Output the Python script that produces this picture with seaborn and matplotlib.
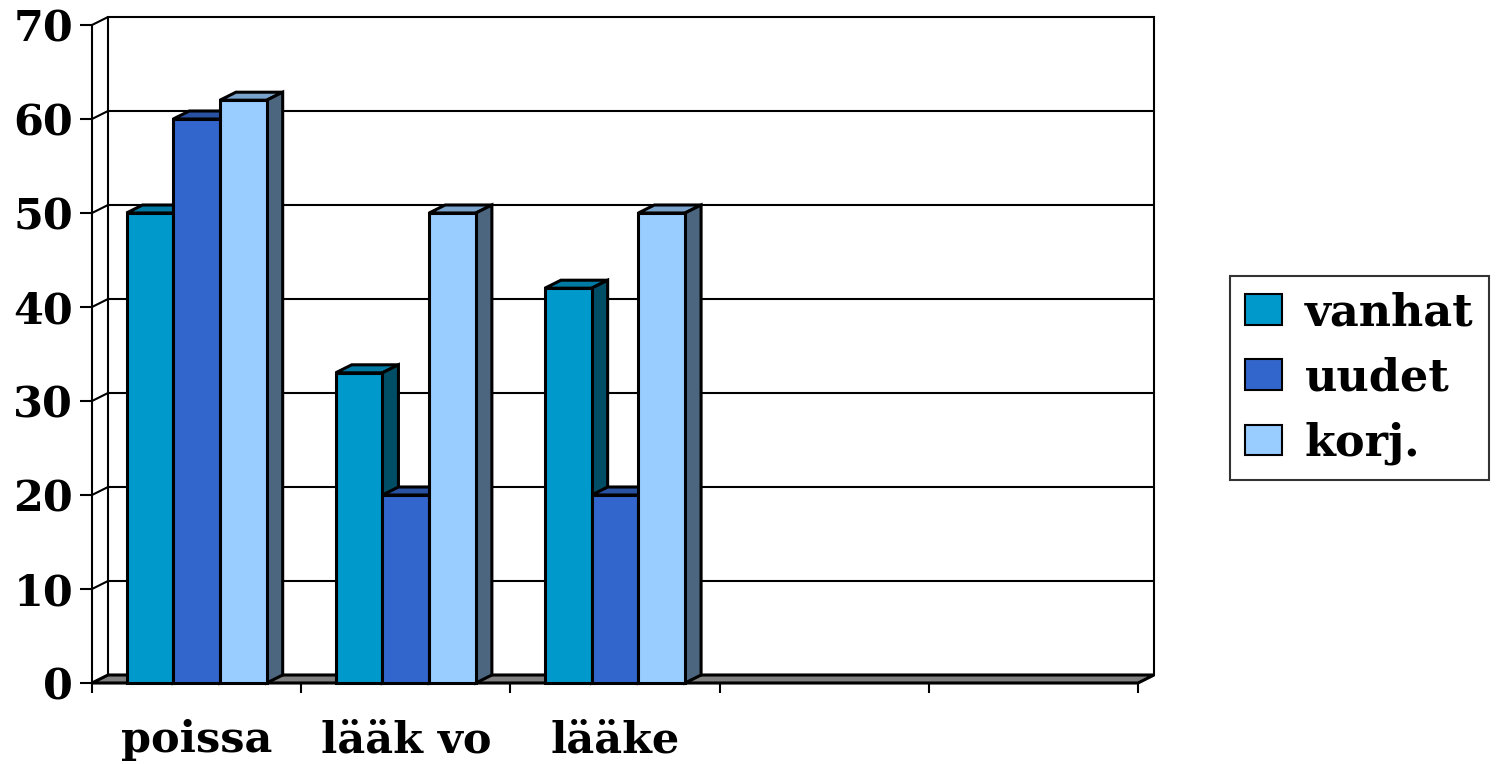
import matplotlib
matplotlib.use("Agg")
import numpy as np
import pandas as pd
import seaborn as sns
import matplotlib.pyplot as plt
from matplotlib.patches import Polygon, Rectangle, Patch
import matplotlib.colors as mcolors

# Data
categories = ["poissa", "lääk vo", "lääke"]
series = ["vanhat", "uudet", "korj."]
vanhat = [50, 33, 42]
uudet = [60, 20, 20]
korj = [62, 50, 50]
y_ticks = [0, 10, 20, 30, 40, 50, 60, 70]
n_slots = 5
colors = ["#0099CC", "#3366CC", "#99CCFF"]

df = pd.DataFrame({
    "category": categories * 3,
    "series": [s for s in series for _ in categories],
    "value": vanhat + uudet + korj,
})

sns.set_style("white")
plt.rcParams["font.family"] = ["DejaVu Serif"]
plt.rcParams["font.weight"] = "bold"
plt.rcParams["text.color"] = "black"
plt.rcParams["xtick.color"] = "black"
plt.rcParams["ytick.color"] = "black"
plt.rcParams["axes.labelcolor"] = "black"

W, H, DPI = 1500, 764, 100
fig = plt.figure(figsize=(W / DPI, H / DPI), dpi=DPI)
fig.patch.set_facecolor("white")

# front plane of the plot area, in pixels
left, right, bottom, top = 92, 1138, 683, 25
ax = fig.add_axes([left / W, (H - bottom) / H, (right - left) / W, (bottom - top) / H])

bar_lw = 2.2
lw = 1.5

sns.barplot(data=df, x="category", y="value", hue="series", order=categories,
            hue_order=series, palette=colors, width=0.67, saturation=1,
            edgecolor="black", linewidth=bar_lw, legend=False, ax=ax)

ax.set_xlim(-0.5, n_slots - 0.5)
ax.set_ylim(y_ticks[0], y_ticks[-1])
ax.set_xlabel("")
ax.set_ylabel("")
ax.set_facecolor("none")

# depth offset of the pseudo-3D view, converted to data units
dx_px, dy_px = 16, 8
dxd = dx_px / ((right - left) / n_slots)
dyd = dy_px / ((bottom - top) / (y_ticks[-1] - y_ticks[0]))
x_lo, x_hi = -0.5, n_slots - 0.5
ymax = y_ticks[-1]

# back wall
ax.add_patch(Rectangle((x_lo + dxd, dyd), x_hi - x_lo, ymax, facecolor="white",
                       edgecolor="black", lw=lw, zorder=0.5, clip_on=False))
# gridlines across side wall and back wall
for v in y_ticks[1:-1]:
    ax.plot([x_lo, x_lo + dxd, x_hi + dxd], [v, v + dyd, v + dyd], color="black",
            lw=lw, zorder=1, clip_on=False, solid_capstyle="butt")
ax.plot([x_lo, x_lo + dxd], [ymax, ymax + dyd], color="black", lw=lw, zorder=1, clip_on=False)
# floor
ax.add_patch(Polygon([(x_lo, 0), (x_hi, 0), (x_hi + dxd, dyd), (x_lo + dxd, dyd)],
                     closed=True, facecolor="#808080", edgecolor="black", lw=bar_lw,
                     zorder=2, clip_on=False))


def shade(c, f):
    r, g, b = mcolors.to_rgb(c)
    return (r * f, g * f, b * f)


# top and side faces for each bar, layered left to right
bars = sorted([p for p in ax.patches if isinstance(p, Rectangle) and p.get_height() > 0
               and p.get_width() < 1], key=lambda p: p.get_x())
for k, p in enumerate(bars):
    x0, w, h = p.get_x(), p.get_width(), p.get_height()
    fc = p.get_facecolor()
    z = 10 + k
    ax.add_patch(Polygon([(x0, h), (x0 + w, h), (x0 + w + dxd, h + dyd), (x0 + dxd, h + dyd)],
                         closed=True, facecolor=shade(fc, 0.8), edgecolor="black",
                         lw=bar_lw, zorder=z, clip_on=False))
    ax.add_patch(Polygon([(x0 + w, 0), (x0 + w + dxd, dyd), (x0 + w + dxd, h + dyd), (x0 + w, h)],
                         closed=True, facecolor=shade(fc, 0.5), edgecolor="black",
                         lw=bar_lw, zorder=z, clip_on=False))
    p.set_zorder(z + 0.5)
    p.set_clip_on(False)

# axes styling
for s in ["top", "right"]:
    ax.spines[s].set_visible(False)
for s in ["left", "bottom"]:
    ax.spines[s].set_color("black")
    ax.spines[s].set_linewidth(lw)
    ax.spines[s].set_zorder(3)

ax.set_yticks(y_ticks)
ax.set_yticklabels([str(v) for v in y_ticks])
ax.tick_params(axis="y", direction="out", length=8.6, width=lw, color="black",
               pad=5, labelsize=31, labelcolor="black", left=True)
ax.set_xticks(range(len(categories)))
ax.set_xticklabels(categories)
ax.set_xticks(np.arange(x_lo, x_hi + 0.01, 1.0), minor=True)
ax.tick_params(axis="x", which="major", length=0, pad=26, labelsize=31, labelcolor="black")
ax.tick_params(axis="x", which="minor", direction="out", length=7.2, width=lw,
               color="black", bottom=True)
for lab in ax.get_xticklabels() + ax.get_yticklabels():
    lab.set_fontweight("bold")

handles = [Patch(facecolor=c, edgecolor="black", lw=lw, label=s) for c, s in zip(colors, series)]
leg = fig.legend(handles=handles, loc="center left", bbox_to_anchor=(1230 / W, (H - 378) / H),
                 frameon=True, fancybox=False, shadow=False,
                 prop={"weight": "bold", "size": 32}, handlelength=0.84, handleheight=0.68,
                 handletextpad=0.5, labelspacing=0.5, borderpad=0.34, borderaxespad=0,
                 labelcolor="black")
leg.get_frame().set_edgecolor("black")
leg.get_frame().set_linewidth(lw)

fig.savefig("out.png", dpi=DPI, facecolor="white")
